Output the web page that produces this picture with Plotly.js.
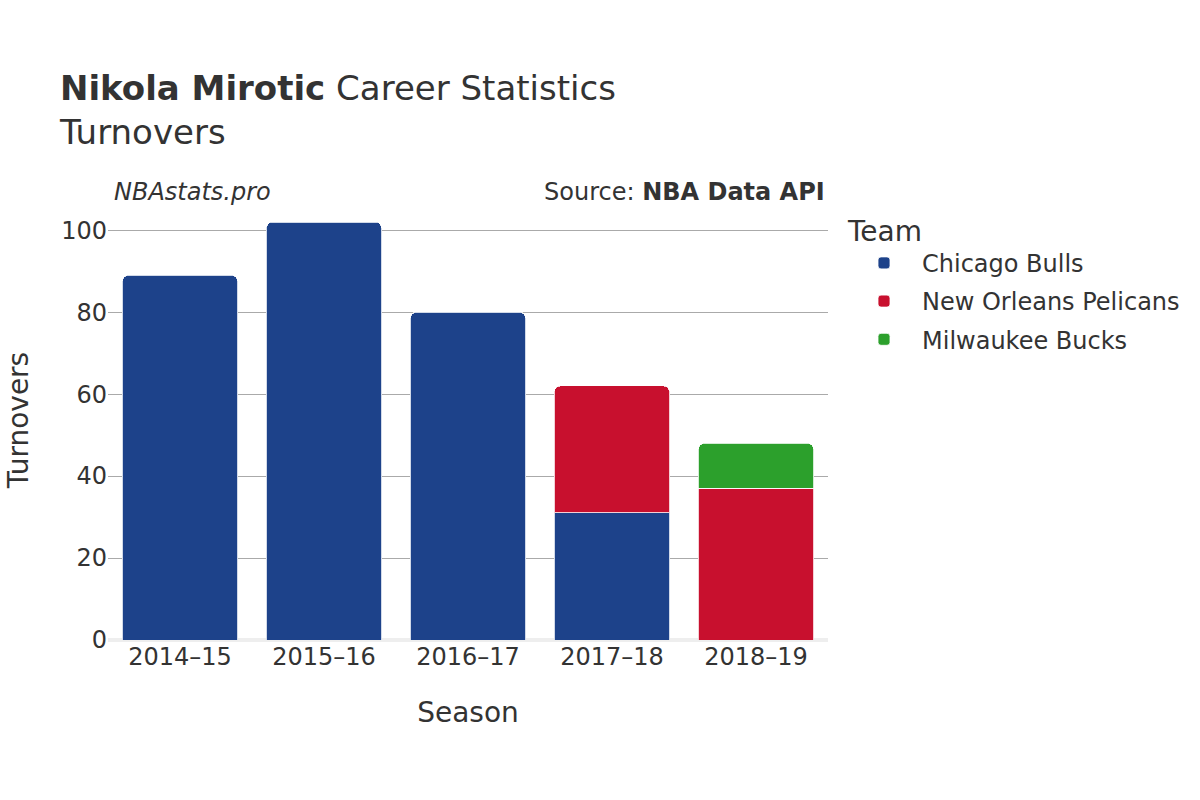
<!DOCTYPE html>
<html>
<head>
<meta charset="utf-8">
<script src="https://cdn.plot.ly/plotly-3.0.1.min.js"></script>
<style>body{margin:0} #chart{width:1200px;height:800px}</style>
</head>
<body>
<div id="chart"></div>
<script>
const seasons = ['2014–15', '2015–16', '2016–17', '2017–18', '2018–19']
const bulls = [89, 102, 80, 31, null]
const pelicans = [null, null, null, 31, 37]
const bucks = [null, null, null, null, 11]

const font = 'DejaVu Sans, Verdana, sans-serif'

function bar(name, y, color) {
    return {
        type: 'bar',
        name: name,
        legendgroup: name,
        x: seasons,
        y: y,
        marker: { color: color, line: { color: 'rgba(255,255,255,0.8)', width: 1 } },
        hoverinfo: 'x+y+name'
    }
}

const traces = [
    bar('Chicago Bulls', bulls, '#1d428a'),
    bar('New Orleans Pelicans', pelicans, '#c8102e'),
    bar('Milwaukee Bucks', bucks, '#2ca02c')
]

Plotly.newPlot('chart', traces, {
    width: 1200,
    height: 800,
    barmode: 'stack',
    barcornerradius: 6,
    bargap: 0.2,
    font: { family: font, color: '#333', size: 24 },
    paper_bgcolor: 'white',
    plot_bgcolor: 'white',
    margin: { l: 108, r: 372, t: 200, b: 160 },
    title: {
        text: '<b>Nikola Mirotic</b> Career Statistics<br>Turnovers',
        x: 0.05, xanchor: 'left',
        y: 0.875, yanchor: 'top',
        font: { size: 34, color: '#333' }
    },
    xaxis: {
        title: { text: 'Season', font: { size: 28 }, standoff: 32 },
        tickfont: { size: 24 },
        showgrid: false,
        ticks: ''
    },
    yaxis: {
        title: { text: 'Turnovers', font: { size: 28 }, standoff: 24 },
        tickfont: { size: 24 },
        gridcolor: '#aaa',
        gridwidth: 1,
        zeroline: true,
        zerolinecolor: '#eee',
        zerolinewidth: 4,
        dtick: 20,
        ticks: ''
    },
    legend: {
        title: { text: 'Team', font: { size: 28 } },
        font: { size: 24 },
        traceorder: 'grouped',
        tracegroupgap: 4,
        itemwidth: 66,
        x: 1.025, xanchor: 'left',
        y: 0.99, yanchor: 'top'
    },
    annotations: [
        { text: '<i>NBAstats.pro</i>', xref: 'paper', yref: 'paper', x: 0.005, y: 1.018, xanchor: 'left', yanchor: 'middle', showarrow: false, font: { size: 24 } },
        { text: 'Source: <b>NBA Data API</b>', xref: 'paper', yref: 'paper', x: 0.999, y: 1.018, xanchor: 'right', yanchor: 'middle', showarrow: false, font: { size: 24 } }
    ]
}, { displayModeBar: false })
</script>
</body>
</html>
